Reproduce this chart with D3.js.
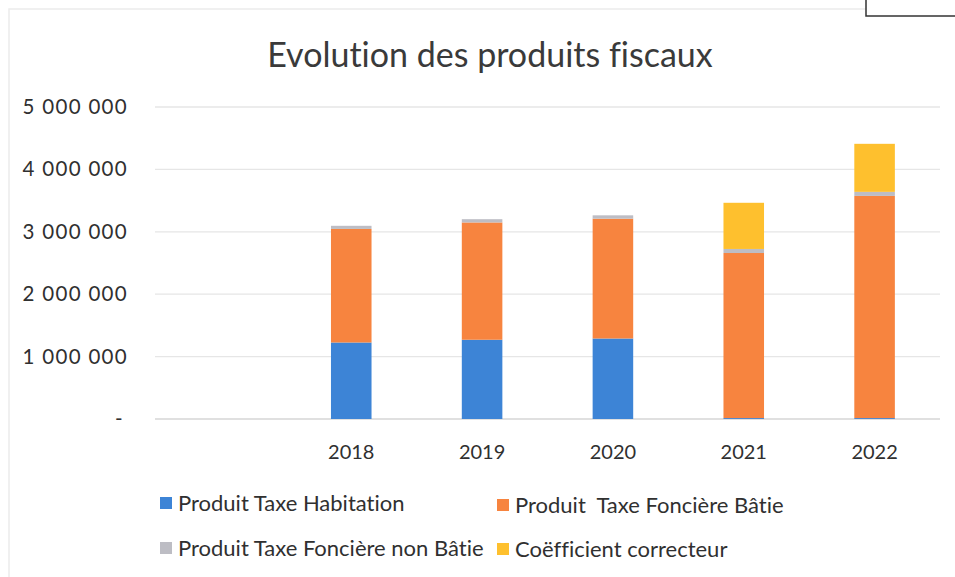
<!DOCTYPE html>
<html>
<head>
<meta charset="utf-8">
<script src="https://cdn.jsdelivr.net/npm/d3@7"></script>
<style>
  html, body { margin: 0; padding: 0; background: #fff; }
  svg text { font-family: Lato, "Open Sans", sans-serif; white-space: pre; font-variant-ligatures: none; font-feature-settings: "liga" 0; }
</style>
</head>
<body>
<svg id="chart" width="955" height="577"></svg>
<script>
// ---- data ----
const categories = ["", "2018", "2019", "2020", "2021", "2022"];
const seriesNames = ["Produit Taxe Habitation", "Produit  Taxe Foncière Bâtie", "Produit Taxe Foncière non Bâtie", "Coëfficient correcteur"];
const habitation      = [0, 1226000, 1270000, 1290000, 15000, 15000];
const fonciereBatie   = [0, 1820000, 1880000, 1920000, 2645000, 3560000];
const fonciereNonBatie= [0, 50000, 52000, 54000, 65000, 65000];
const coefficient     = [0, 0, 0, 0, 740000, 770000];
const yTicks = [0, 1000000, 2000000, 3000000, 4000000, 5000000];
const titleText = "Evolution des produits fiscaux";

// ---- layout / style ----
const colors = ["#3D84D6", "#F7843F", "#BDBDC4", "#FEC02E"];
const svg = d3.select("#chart");
const plot = { left: 155, right: 940, top: 107, bottom: 419 };

// faint scanned chart border and the box at top right
svg.append("rect").attr("x", 9).attr("y", 9).attr("width", 960).attr("height", 600)
  .attr("fill", "none").attr("stroke", "#ececec").attr("stroke-width", 1.5);
svg.append("rect").attr("x", 866).attr("y", -2).attr("width", 100).attr("height", 18)
  .attr("fill", "#fff").attr("stroke", "#333").attr("stroke-width", 1.5);

const x = d3.scaleBand().domain(categories.map((c, i) => i))
  .range([plot.left, plot.right]).paddingInner(0.69).paddingOuter(0.345);
const y = d3.scaleLinear().domain([0, 5000000]).range([plot.bottom, plot.top]);

const locale = d3.formatLocale({ decimal: ",", thousands: " ", grouping: [3], currency: ["", " €"] });
const fmt = locale.format(",.0f");

// gridlines
svg.append("g").selectAll("line").data(yTicks).join("line")
  .attr("x1", plot.left).attr("x2", plot.right)
  .attr("y1", d => y(d)).attr("y2", d => y(d))
  .attr("stroke", d => d === 0 ? "#d6d6d6" : "#e6e6e6").attr("stroke-width", 1.3);

// y axis labels
const yAxis = d3.axisLeft(y).tickValues(yTicks).tickSize(0).tickPadding(0)
  .tickFormat(d => d === 0 ? "-" : fmt(d));
const gy = svg.append("g").attr("transform", `translate(128,0)`).call(yAxis);
gy.select(".domain").remove();
gy.selectAll("text").attr("font-size", 20.5).attr("fill", "#303030")
  .attr("font-family", "Liberation Sans, Arial, sans-serif")
  .attr("letter-spacing", 1.3)
  .attr("dx", d => d === 0 ? -4 : 0);

// stacked bars
const rows = categories.map((c, i) => ({ i, cat: c, v0: habitation[i], v1: fonciereBatie[i], v2: fonciereNonBatie[i], v3: coefficient[i] }));
const stack = d3.stack().keys(["v0", "v1", "v2", "v3"]);
const stacked = stack(rows);
svg.append("g").selectAll("g").data(stacked).join("g")
  .attr("fill", (d, k) => colors[k])
  .selectAll("rect").data(d => d.filter(p => p.data.cat !== "")).join("rect")
  .attr("x", p => x(p.data.i))
  .attr("width", x.bandwidth())
  .attr("y", p => y(p[1]))
  .attr("height", p => Math.max(0, y(p[0]) - y(p[1])));

// x axis labels
const xAxis = d3.axisBottom(x).tickSize(0).tickPadding(0).tickFormat(i => categories[i]);
const gx = svg.append("g").attr("transform", `translate(0,${plot.bottom})`).call(xAxis);
gx.select(".domain").remove();
gx.selectAll("text").attr("font-size", 20).attr("fill", "#303030")
  .attr("dy", 0).attr("y", 40);

// title
svg.append("text").attr("x", 490).attr("y", 67).attr("text-anchor", "middle")
  .attr("font-size", 34).attr("fill", "#3a3a3a").text(titleText);

// legend
const legendPos = [[160, 503], [497, 505], [160, 548], [497, 549]];
const lg = svg.append("g").selectAll("g").data(seriesNames).join("g")
  .attr("transform", (d, k) => `translate(${legendPos[k][0]},${legendPos[k][1]})`);
lg.append("rect").attr("x", 0).attr("y", -6).attr("width", 12).attr("height", 12)
  .attr("fill", (d, k) => colors[k]);
lg.append("text").attr("x", 18).attr("y", 0).attr("dy", "0.35em")
  .attr("font-size", 22).attr("fill", "#303030").text(d => d);
</script>
</body>
</html>
